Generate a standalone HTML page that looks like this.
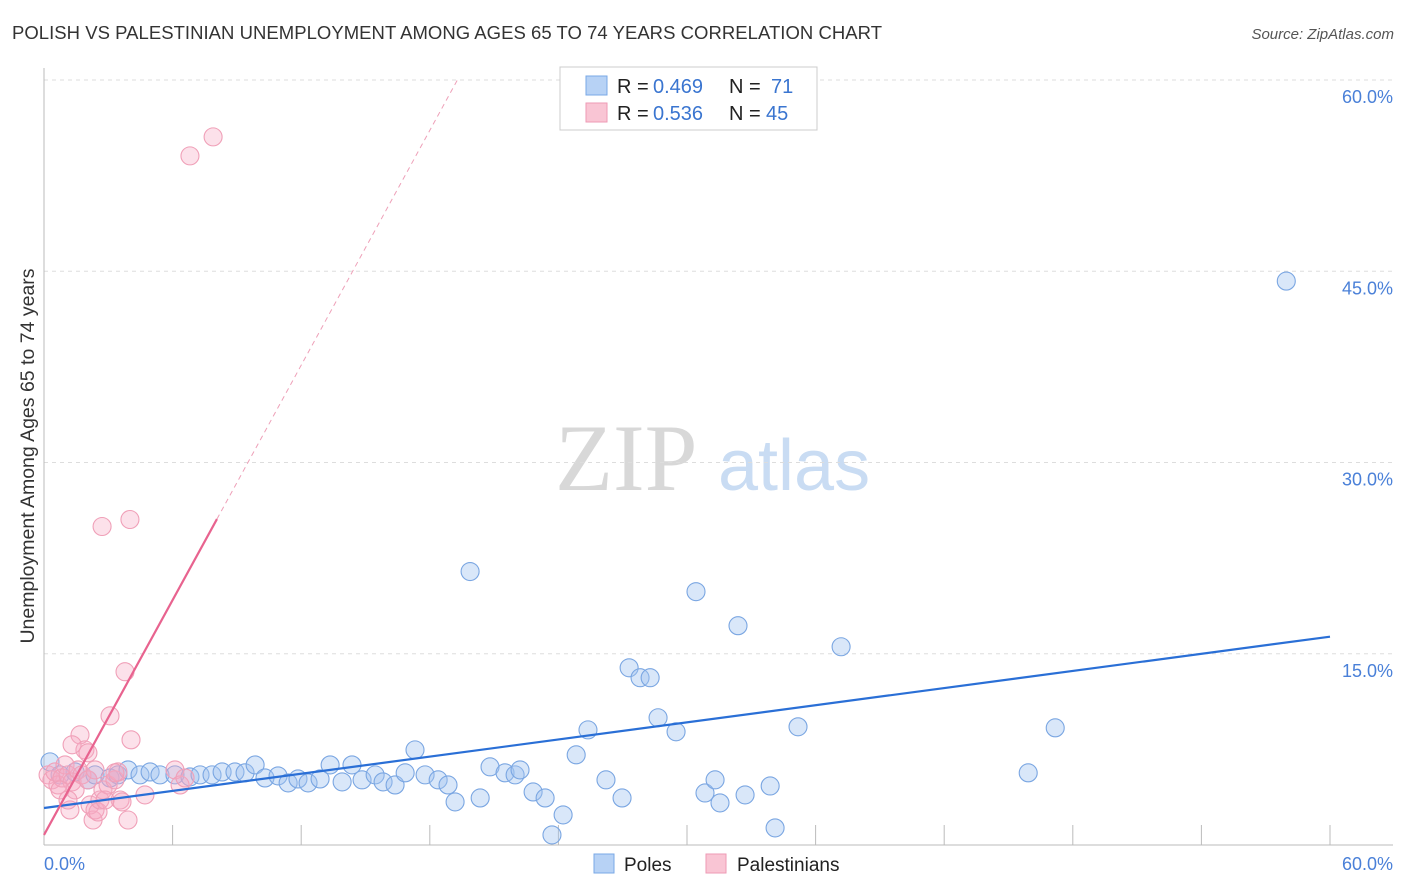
<!DOCTYPE html>
<html><head><meta charset="utf-8"><style>
body{margin:0;background:#fff;font-family:"Liberation Sans",sans-serif;}
#wrap{position:relative;width:1406px;height:892px;overflow:hidden;}
</style></head><body>
<div id="wrap">
<svg id="svg" width="1406" height="892" xmlns="http://www.w3.org/2000/svg">
<text x="12" y="39" font-size="18.5" fill="#333" textLength="870">POLISH VS PALESTINIAN UNEMPLOYMENT AMONG AGES 65 TO 74 YEARS CORRELATION CHART</text>
<text x="1394" y="39" font-size="15" fill="#555" font-style="italic" text-anchor="end">Source: ZipAtlas.com</text>
<text x="0" y="0" transform="translate(34,456) rotate(-90)" font-size="19.5" fill="#333" text-anchor="middle">Unemployment Among Ages 65 to 74 years</text>
<g>
<text x="555" y="490" font-size="95" fill="#d8d8d8" font-family="Liberation Serif,serif">ZIP</text>
<text x="718" y="490" font-size="72" fill="#c9dcf3">atlas</text>
</g>
<g id="grid"></g>
<g id="axes"></g>
<g id="pts"></g>
<g id="trend"></g>
<g>
<rect x="560" y="67" width="257" height="63" fill="#fff" stroke="#ccc"/>
<rect x="586" y="76" width="21" height="19" fill="#b7d2f5" stroke="#7aa8e6"/>
<rect x="586" y="103" width="21" height="19" fill="#f9c5d4" stroke="#ee9ab5"/>
<g font-size="20">
<text x="617" y="93" fill="#222">R =</text><text x="653" y="93" fill="#3a75d0">0.469</text>
<text x="729" y="93" fill="#222">N =</text><text x="771" y="93" fill="#3a75d0">71</text>
</g>
<g font-size="20">
<text x="617" y="120" fill="#222">R =</text><text x="653" y="120" fill="#3a75d0">0.536</text>
<text x="729" y="120" fill="#222">N =</text><text x="766" y="120" fill="#3a75d0">45</text>
</g>
</g>
<g>
<rect x="594" y="854" width="20" height="19" fill="#b7d2f5" stroke="#7aa8e6"/>
<text x="624" y="871" font-size="19" fill="#222">Poles</text>
<rect x="706" y="854" width="20" height="19" fill="#f9c5d4" stroke="#ee9ab5"/>
<text x="737" y="871" font-size="19" fill="#222">Palestinians</text>
</g>
</svg>
</div>
<script>
const yTicks=[15,30,45,60];
const yTickLabels=["15.0%","30.0%","45.0%","60.0%"];
const xTickLabels=["0.0%","60.0%"];
const polesX=[0.28,0.75,1.45,2.05,2.38,3.08,3.45,3.92,4.48,4.95,5.41,6.11,6.81,7.28,7.84,8.31,8.91,9.38,9.85,10.31,10.92,11.39,11.85,12.32,12.88,13.35,13.91,14.37,14.84,15.45,15.82,16.38,16.85,17.31,17.78,18.39,18.85,19.18,19.88,20.35,20.81,21.51,21.98,22.21,22.82,23.38,23.70,24.22,24.83,25.38,26.22,26.97,27.30,27.81,28.28,28.65,29.49,30.42,30.84,31.31,31.54,32.38,32.71,33.88,34.11,35.18,37.19,45.92,47.18,57.96];
const polesY=[6.52,5.50,5.73,5.11,5.50,5.26,5.50,5.89,5.50,5.73,5.50,5.50,5.34,5.50,5.50,5.73,5.73,5.66,6.28,5.26,5.42,4.87,5.18,4.87,5.18,6.28,4.95,6.28,5.11,5.50,4.95,4.71,5.66,7.46,5.50,5.11,4.71,3.38,21.45,3.69,6.13,5.66,5.50,5.89,4.16,3.69,0.79,2.36,7.07,9.03,5.11,3.69,13.90,13.12,13.12,9.98,8.88,19.87,4.08,5.11,3.30,17.20,3.93,4.63,1.34,9.27,15.55,5.66,9.19,44.23];
const palX=[0.19,0.37,0.51,0.65,0.84,0.98,1.12,1.31,1.45,1.59,1.68,1.77,1.91,2.05,2.15,2.29,2.38,2.52,2.61,2.75,2.99,3.08,3.31,3.45,3.55,3.64,3.78,3.92,4.01,4.06,2.71,4.71,6.11,6.35,6.58,6.81,7.89,1.31,1.21,0.75,2.05,2.85,3.31,1.12,2.38];
const palY=[5.50,5.11,5.73,4.71,5.26,6.28,5.50,4.95,4.32,5.89,8.64,5.50,7.46,5.11,3.14,1.96,2.75,2.59,3.53,4.32,4.71,10.13,5.11,5.73,3.53,3.38,13.59,1.96,25.53,8.25,24.98,3.93,5.89,4.71,5.26,54.05,55.54,7.86,2.75,4.32,7.23,3.53,5.66,3.53,5.89];
const polesTrend=[2.9,16.34];
const palTrend=[0.79,3.07];
const X0=44,X1=1330,Y0=845,Y1=80;
const sx=v=>X0+(v/60)*(X1-X0);
const sy=v=>Y0-(v/60)*(Y0-Y1);
const NS="http://www.w3.org/2000/svg";
function mk(tag,attrs,parent){const e=document.createElementNS(NS,tag);for(const k in attrs)e.setAttribute(k,attrs[k]);document.getElementById(parent).appendChild(e);return e;}
yTicks.forEach((t,i)=>{
  const l=mk('line',{x1:X0,x2:1393,y1:sy(t),y2:sy(t),stroke:'#ddd','stroke-dasharray':'4,4'},'grid');
  
  
  const tx=mk('text',{x:1393,y:sy(t)+23,'font-size':18,fill:'#4a80d8','text-anchor':'end'},'grid');
  tx.textContent=yTickLabels[i];
  
  
});
const ax=mk('line',{x1:X0,x2:X0,y1:68,y2:Y0,stroke:'#bbb'},'axes');


const bx=mk('line',{x1:X0,x2:1393,y1:Y0,y2:Y0,stroke:'#bbb'},'axes');


for(let v=6;v<=60;v+=6){
  const tk=mk('line',{x1:sx(v),x2:sx(v),y1:Y0-20,y2:Y0,stroke:'#bbb'},'axes');
  
  
}
const xl0=mk('text',{x:X0,y:870,'font-size':18,fill:'#4a80d8'},'axes');xl0.textContent=xTickLabels[0];


const xl1=mk('text',{x:1393,y:870,'font-size':18,fill:'#4a80d8','text-anchor':'end'},'axes');xl1.textContent=xTickLabels[1];


polesX.forEach((x,i)=>{
  const c=mk('circle',{cx:sx(x),cy:sy(polesY[i]),r:9,fill:'rgba(160,195,240,0.4)',stroke:'#7aa6e2','stroke-width':1.1},'pts');
  
  
});
palX.forEach((x,i)=>{
  const c=mk('circle',{cx:sx(x),cy:sy(palY[i]),r:9,fill:'rgba(245,170,195,0.35)',stroke:'#f0a0b8','stroke-width':1.1},'pts');
  
  
});
const bl=mk('line',{x1:sx(0),y1:sy(polesTrend[0]),x2:sx(60),y2:sy(polesTrend[1]),stroke:'#2a6fd6','stroke-width':2.2},'trend');


const xs=8.07,xe=(60-palTrend[0])/palTrend[1];
const pl=mk('line',{x1:sx(0),y1:sy(palTrend[0]),x2:sx(xs),y2:sy(palTrend[0]+palTrend[1]*xs),stroke:'#e8638f','stroke-width':2.2},'trend');


const pd=mk('line',{x1:sx(xs),y1:sy(palTrend[0]+palTrend[1]*xs),x2:sx(xe),y2:sy(60),stroke:'#eea0b8','stroke-width':1,'stroke-dasharray':'5,4'},'trend');


</script>
</body></html>
